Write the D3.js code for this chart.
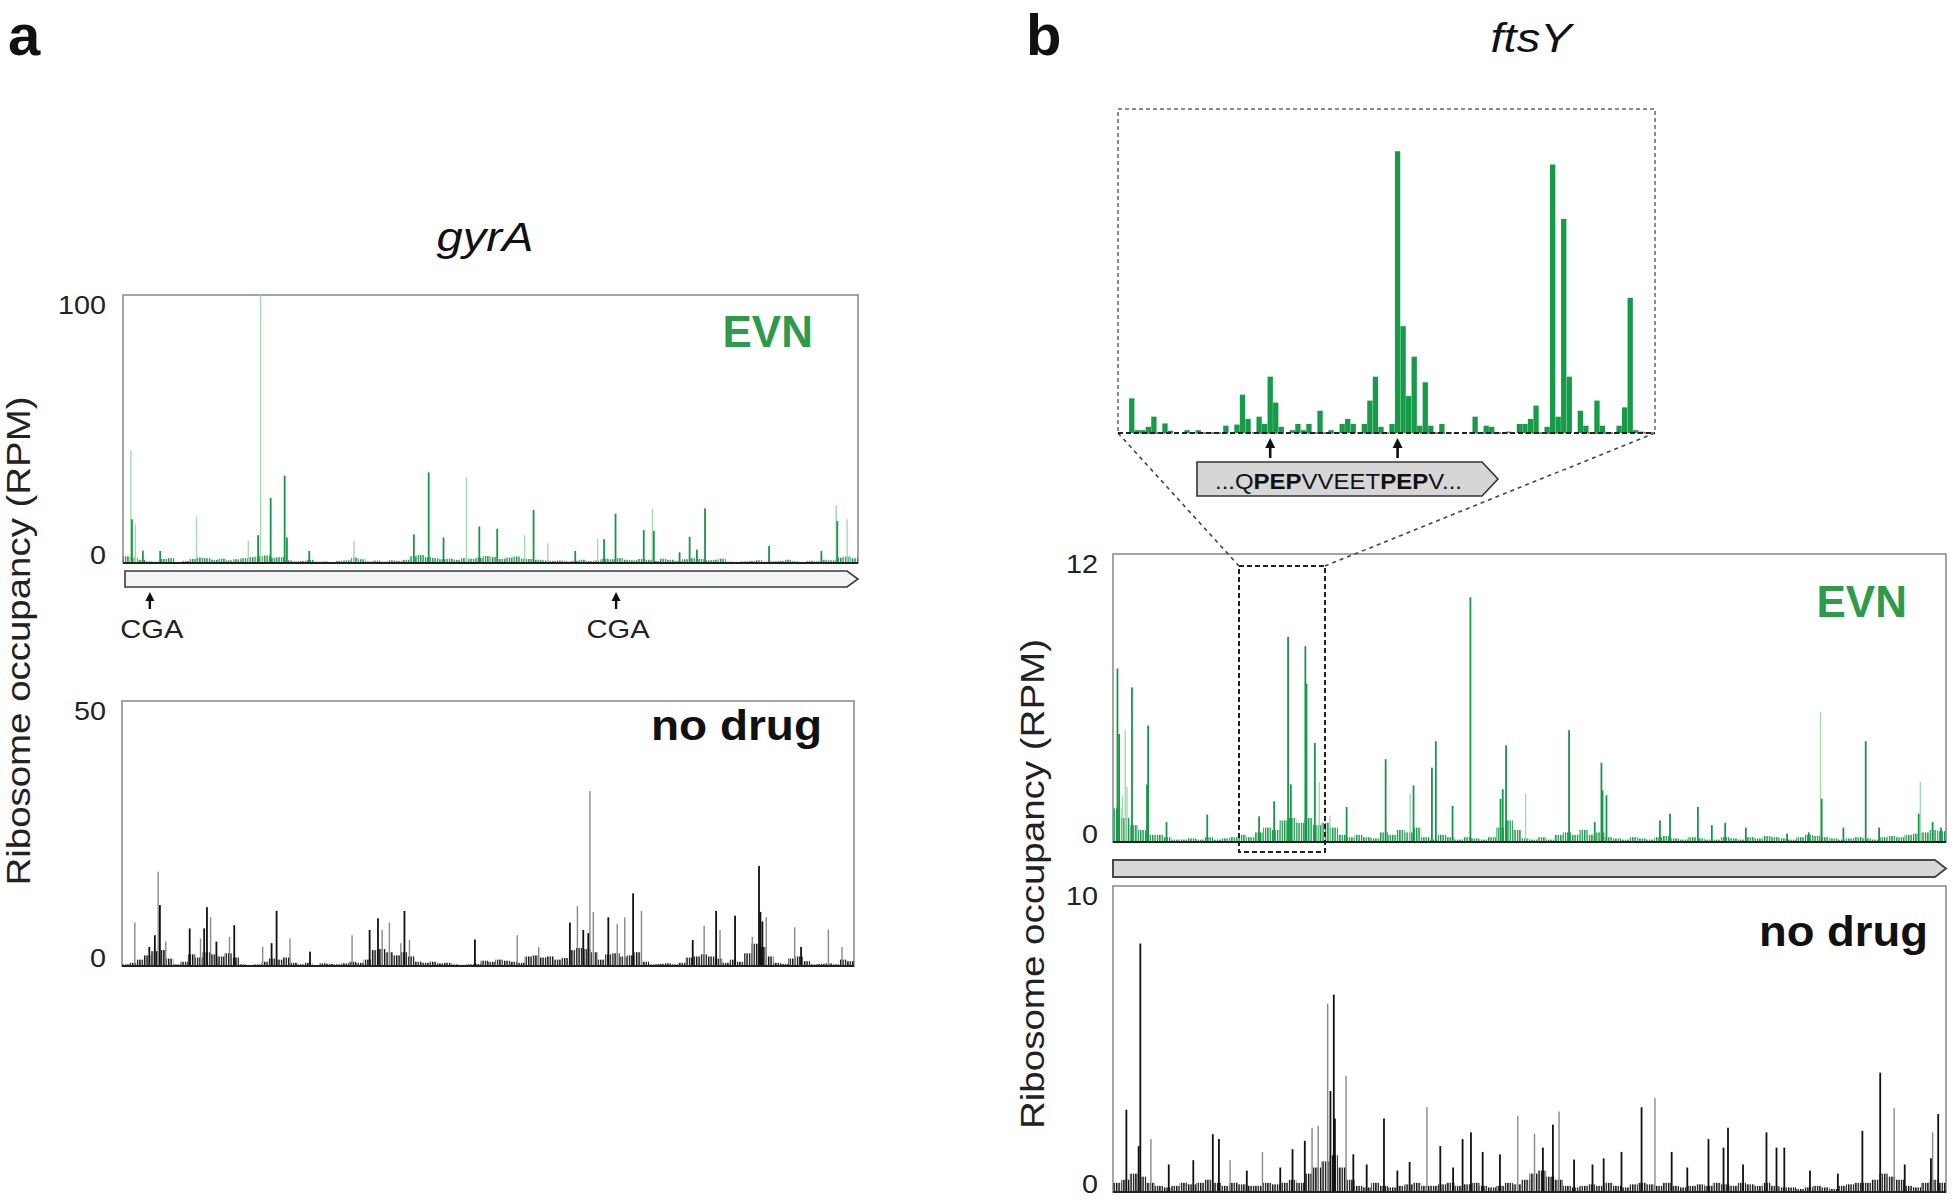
<!DOCTYPE html>
<html><head><meta charset="utf-8">
<script src="https://cdn.jsdelivr.net/npm/d3@7"></script>
<style>body{margin:0;background:#fff} svg{display:block} text{font-family:"Liberation Sans",Arial,sans-serif}</style>
</head><body><svg id="c" width="1956" height="1204"></svg>
<script>
// ---------------- DATA ----------------
const gyrALength = 2628, ftsYLength = 1494;
const ticksA_evn = [0, 100], ticksA_nd = [0, 50], ticksB_evn = [0, 12], ticksB_nd = [0, 10];
const cgaSites = [96, 1763];
const cgaLabels = ["CGA", "CGA"];
const insetArrowIdx = [27, 50];
const seqParts = [["...Q", false], ["PEP", true], ["VVEET", false], ["PEP", true], ["V...", false]];

// background occupancy (binned, 100 bins over the gene)
const bgA_evn = [2.5,2.0,1.2,0.6, 0.5,1.5,1.8,0.4,0.8, 1.5,2.0,1.8,1.2,1.6,1.0,1.4,1.8,2.2,2.5, 2.8,2.0,2.2,1.0, 0.6,0.8,1.2,0.5,0.6,0.4,0.8,1.0, 2.0,1.4, 0.6,0.9,0.5,1.0,0.8,1.2, 2.5,3.0,2.2,1.8,1.4,1.6,1.2, 1.8,1.6,2.0,2.6,2.2,1.5,2.0,2.4,1.6, 1.5,1.2,1.0,0.8,0.9,0.6,0.8,1.2,0.7,0.9, 1.6,1.4,1.8,1.2, 1.0,1.5,1.2,0.8,1.6,1.2,0.8,1.4,1.8,1.5,1.0,1.2,1.6, 0.5,0.4,0.6,0.8,1.0,0.5,0.6,0.8,1.2,0.6,0.4,0.8,0.6, 1.2,1.0,2.0,2.4,1.8];
const bgA_nd = [0.3,0.6, 1.2,2.0,2.8,3.0,1.4, 0.3,0.8, 2.2,1.6,2.6,2.2,1.8,2.4,1.6, 0.3,0.2,0.3,0.8, 1.4,1.2,1.6,0.6, 0.3,0.6,0.2,0.5,0.4,0.3,0.5,0.8,0.6, 1.2, 3.0,3.2,2.6,2.0,2.6,1.8, 0.8,0.6,0.8,0.5,0.6, 0.3,0.2,0.3,0.4, 1.0,0.8,1.2,1.0,0.8, 0.6, 1.8,2.0,1.6,1.8,1.2, 1.5,3.0,3.4,3.2,2.6,1.2, 2.2,2.4,1.8,2.0,2.6,0.8, 0.3,0.4,0.5,0.3,0.6, 1.6,1.8,2.2,1.8,1.4,0.6, 1.2,0.8, 2.4,4.2,3.6,1.8, 0.6,0.4, 1.4,1.8,0.9, 0.3,0.4,0.5,0.3,1.2,0.9];
const bgB_evn = [1.4,1.0,0.7, 0.5,0.3,0.3,0.2, 0.1,0.1,0.15,0.1,0.2,0.1,0.15,0.2, 0.3,0.2,0.4, 0.6,0.5,0.9,1.0,0.8,1.0,0.7,0.8, 0.6,0.3,0.2,0.3,0.2,0.15, 0.4,0.3,0.5,0.4,0.6, 0.2,0.1,0.3,0.2,0.1,0.2,0.15,0.1,0.2, 0.6,0.9,0.5, 0.15,0.1,0.2,0.1, 0.3,0.4,0.3,0.5,0.3,0.4,0.2, 0.15,0.1,0.2,0.15,0.1,0.2,0.25,0.15,0.1,0.2, 0.15,0.1,0.1,0.2,0.15,0.1,0.2,0.15,0.25,0.2, 0.15,0.1,0.2,0.3,0.25,0.2,0.15,0.1,0.15,0.2, 0.15,0.1,0.2,0.25,0.2,0.3,0.35, 0.4,0.5,0.45];
const bgB_nd = [0.3,0.4,0.6,0.5,0.3, 0.2,0.15,0.2,0.3,0.25, 0.3,0.4,0.3,0.2,0.3,0.25,0.2, 0.2,0.3,0.25,0.3,0.4,0.3, 0.6,0.8,1.0,1.2,0.8,0.4, 0.2,0.15,0.3,0.2,0.15,0.2,0.25,0.3,0.2, 0.2,0.25,0.3,0.2,0.25,0.3,0.2,0.15,0.2,0.3,0.25, 0.4,0.6,0.7,0.5,0.4, 0.2,0.15,0.2,0.25,0.2,0.3,0.2,0.15,0.25,0.3, 0.25,0.2,0.3,0.2,0.15,0.2,0.25,0.2,0.3,0.25,0.2,0.3,0.25,0.2,0.3,0.2,0.15, 0.15,0.1,0.15,0.2,0.15,0.1,0.2,0.25,0.3,0.3,0.4, 0.6,0.5,0.4,0.2, 0.15,0.3,0.4,0.3];

// individual peaks: [nt position, RPM, tone (0 dark / 1 light)]
const peaksA_evn = [[28,41.9,1],[32,16.3,0],[44,14.4,1],[71,4.6,0],[133,4.5,0],[263,17.3,1],[448,8.3,1],[483,10.4,0],[492,100,1],[528,24.3,0],[578,32.6,0],[586,9.5,0],[666,4.5,0],[826,8.3,1],[1040,10.7,0],[1093,33.8,0],[1146,9.5,0],[1228,32,1],[1274,13.6,0],[1338,12.8,0],[1436,10.4,1],[1468,19.8,0],[1519,7.3,1],[1617,4.5,0],[1697,8.9,1],[1720,8.9,0],[1761,18.4,0],[1862,12.3,0],[1893,20.2,1],[1898,12,0],[1990,4,0],[2026,9.8,0],[2052,5,0],[2081,20.4,0],[2310,6.4,0],[2497,4.5,0],[2550,21.5,1],[2554,15.7,0],[2589,16.3,1]];
const peaksA_nd = [[46,8.2,1],[98,3.6,0],[118,5.8,0],[130,17.8,1],[136,11.5,0],[157,4.6,1],[243,7.1,0],[282,5.2,1],[295,7.1,0],[305,11.1,0],[318,9.2,1],[339,4.6,0],[386,5.5,1],[403,7.7,0],[505,3.6,1],[537,4.3,0],[555,10.4,0],[603,5.2,1],[675,2.7,0],[826,5.8,1],[889,6.8,0],[919,9.0,0],[934,6.8,1],[960,8.2,1],[1001,4.3,1],[1014,10.4,0],[1032,4.9,1],[1267,5.0,0],[1419,5.8,1],[1496,3.6,1],[1608,8.2,0],[1635,11.3,1],[1656,6.8,0],[1674,6.2,0],[1680,33,1],[1692,10.2,1],[1746,9.2,0],[1778,7.9,1],[1805,9.2,1],[1835,13.7,0],[1865,10.4,1],[2049,4.9,0],[2090,7.6,1],[2133,10.4,0],[2147,6.8,1],[2201,9.5,0],[2263,5.5,1],[2287,18.9,0],[2292,10.2,0],[2299,8.4,0],[2313,9.2,1],[2415,7.3,1],[2438,3.6,0],[2536,6.9,1],[2585,3.6,1]];
const peaksB_evn = [[8,7.23,0],[11,4.5,0],[17,1.95,1],[22,4.66,1],[25,2.3,1],[34,6.44,0],[61,2.4,0],[63,4.85,0],[96,0.83,0],[169,1.14,0],[262,1.07,0],[289,1.7,0],[314,8.55,0],[319,2.4,0],[345,8.16,0],[347,6.6,0],[362,4.13,0],[370,2.5,1],[389,1.1,1],[419,1.46,0],[489,3.45,0],[533,2.0,1],[539,2.36,0],[572,3.1,0],[579,4.2,0],[609,1.5,0],[641,10.2,0],[695,1.8,0],[699,2.2,0],[705,4.03,0],[740,2.0,1],[818,4.66,0],[864,0.83,0],[876,3.3,0],[878,2.15,0],[885,1.95,0],[981,0.9,0],[999,1.18,0],[1049,1.46,0],[1074,0.7,0],[1098,0.8,0],[1135,0.6,0],[1209,0.35,0],[1248,0.4,0],[1269,5.42,1],[1271,1.8,0],[1310,0.6,0],[1350,4.2,0],[1374,0.6,0],[1445,1.18,0],[1448,2.5,1],[1470,0.83,0],[1485,0.6,0]];
const peaksB_nd = [[24,2.69,0],[46,1.5,0],[49,8.12,0],[68,1.73,1],[100,0.9,0],[144,1.04,0],[179,1.89,0],[190,1.73,0],[210,1.04,1],[240,0.7,0],[268,1.31,1],[300,0.8,0],[322,1.4,0],[344,1.67,0],[357,2.1,1],[368,2.16,1],[385,6.15,1],[390,3.3,0],[396,6.45,0],[398,2.4,0],[418,3.8,1],[431,1.23,0],[455,0.9,0],[486,2.4,0],[510,0.7,0],[532,0.98,0],[563,2.77,1],[587,1.5,0],[610,0.8,0],[627,1.73,0],[642,1.95,0],[663,1.31,0],[694,1.23,0],[726,2.49,1],[756,1.9,1],[771,1.45,0],[789,2.2,0],[800,2.63,1],[827,1.06,0],[860,0.9,0],[880,1.1,0],[912,1.31,0],[948,2.77,0],[972,3.07,1],[1002,1.31,0],[1030,0.8,0],[1068,1.73,0],[1095,1.45,0],[1103,2.1,0],[1130,0.9,0],[1172,1.95,0],[1190,1.45,0],[1204,1.45,0],[1250,0.7,0],[1300,0.6,0],[1344,2.0,0],[1376,3.9,0],[1401,2.74,1],[1420,0.9,0],[1467,1.1,0],[1470,1.95,1],[1480,2.55,0]];

// inset (zoomed region, per nucleotide)
const insetVals = [0,0,12.3,1,1,2.2,5.8,0,3.4,0.8, 0,0,1,0,1,0,0,0,0,2.6, 0,3,13.6,5,0,5.8,3.2,20,10.8,2.2, 0,1,3.2,1,3.2,0,7.9,0,1,0, 3.2,5,3.2,0,3.2,11.5,20,2.2,0,3.2, 100,37.9,13.1,27.1,2.6,18,2.6,0,3.2,0, 0,0,0,0,5.8,0,2.6,2.2,0,0, 0.5,0,3.2,3.2,5,9.7,0,2.2,95.3,5.8, 76,20,0,7.9,2.6,0,11.5,2.6,0,0, 2.6,9.1,48,1,0.5,0,0];

// ---------------- DRAWING ----------------
const svg = d3.select('#c');
const FF = '"Liberation Sans", Arial, sans-serif';
const GREEN = '#17974a', GREEN_L = '#a6d9b1', GREEN_TXT = '#2e9b4c';

// stripe patterns to give the dense low-level signal a fine, line-like texture
const defs = svg.append('defs');
[['stG', GREEN], ['stK', '#111']].forEach(([id, col]) => {
  const p = defs.append('pattern').attr('id', id).attr('patternUnits', 'userSpaceOnUse')
    .attr('width', 2.4).attr('height', 20);
  p.append('rect').attr('width', 1.4).attr('height', 20).attr('fill', col);
});

function txt(x, y, s, o) {
  const t = svg.append('text').attr('x', x).attr('y', y).text(s)
    .attr('font-size', o.size).attr('font-family', FF)
    .attr('font-weight', o.bold ? 'bold' : 'normal')
    .attr('font-style', o.italic ? 'italic' : 'normal')
    .attr('fill', o.fill || '#111')
    .attr('text-anchor', o.anchor || 'start');
  if (o.len) t.attr('textLength', o.len).attr('lengthAdjust', 'spacingAndGlyphs');
  if (o.rot) t.attr('transform', `rotate(-90,${x},${y})`);
  return t;
}

function track(c) {
  const x = d3.scaleLinear().domain([0, c.len]).range([c.x0, c.x1]);
  const y = d3.scaleLinear().domain([0, c.max]).range([c.base, c.top]);
  const g = svg.append('g');
  g.append('rect').attr('x', c.x0).attr('y', c.top).attr('width', c.x1 - c.x0).attr('height', c.base - c.top)
    .attr('fill', '#fff').attr('stroke', '#8e8e8e').attr('stroke-width', 1.6);
  const bw = c.len / c.bg.length;
  g.append('g').selectAll('rect').data(c.bg).join('rect')
    .attr('x', (d, i) => x(i * bw)).attr('width', (d, i) => x((i + 1) * bw) - x(i * bw))
    .attr('y', d => y(d)).attr('height', d => c.base - y(d))
    .attr('fill', `url(#${c.pat})`);
  const pk = c.peaks.slice().sort((a, b) => b[2] - a[2]);
  g.append('g').selectAll('rect').data(pk).join('rect')
    .attr('x', d => x(d[0]) - (d[2] ? 0.7 : 0.9)).attr('width', d => d[2] ? 1.4 : 1.8)
    .attr('y', d => y(d[1])).attr('height', d => c.base - y(d[1]))
    .attr('fill', d => d[2] ? c.light : c.dark);
  g.append('line').attr('x1', c.x0).attr('x2', c.x1).attr('y1', c.base).attr('y2', c.base)
    .attr('stroke', '#222').attr('stroke-width', 1.8);
  const ax = d3.axisLeft(y).tickValues(c.ticks).tickSize(0).tickPadding(0).tickFormat(d3.format('d'));
  const ag = g.append('g').attr('transform', `translate(${c.tickX},0)`).call(ax);
  ag.select('.domain').remove();
  ag.selectAll('text').attr('font-size', 25).attr('font-family', FF).attr('fill', '#222')
    .attr('dy', d => d === 0 ? '0em' : '0.72em')
    .attr('textLength', d => String(d).length * 16).attr('lengthAdjust', 'spacingAndGlyphs');
  txt(c.labRight, c.labBase, c.label, { size: c.labSize, bold: true, anchor: 'end', fill: c.labFill, len: c.labLen });
  return x;
}

// Panel letters and titles
txt(8, 55, 'a', { size: 58, bold: true });
txt(1026, 55, 'b', { size: 58, bold: true });
txt(485, 251, 'gyrA', { size: 40, italic: true, anchor: 'middle', len: 97 });
txt(1531, 52, 'ftsY', { size: 40, italic: true, anchor: 'middle', len: 81 });
txt(30, 641, 'Ribosome occupancy (RPM)', { size: 33, anchor: 'middle', rot: true, len: 489, fill: '#222' });
txt(1044, 884, 'Ribosome occupancy (RPM)', { size: 33, anchor: 'middle', rot: true, len: 490, fill: '#222' });

// Panel a tracks
const xA = track({ x0: 123, x1: 858, top: 295, base: 563, len: gyrALength, max: 100, bg: bgA_evn, peaks: peaksA_evn, pat: 'stG',
  dark: GREEN, light: GREEN_L, ticks: ticksA_evn, tickX: 106, label: 'EVN', labRight: 813, labBase: 347, labSize: 44, labFill: GREEN_TXT });
track({ x0: 122, x1: 854, top: 701, base: 966, len: gyrALength, max: 50, bg: bgA_nd, peaks: peaksA_nd, pat: 'stK',
  dark: '#111', light: '#8a8a8a', ticks: ticksA_nd, tickX: 106, label: 'no drug', labRight: 822, labBase: 740, labSize: 42, labFill: '#111', labLen: 171 });

// gyrA gene arrow
svg.append('polygon').attr('points', '125,571 847,571 858,579 847,587 125,587')
  .attr('fill', '#f3f4f5').attr('stroke', '#3a3a3a').attr('stroke-width', 1.6);
cgaSites.forEach((p, i) => {
  const cx = xA(p);
  svg.append('polygon').attr('points', `${cx},592 ${cx - 4.5},601 ${cx + 4.5},601`).attr('fill', '#111');
  svg.append('line').attr('x1', cx).attr('x2', cx).attr('y1', 599).attr('y2', 609).attr('stroke', '#111').attr('stroke-width', 2.4);
  txt(cx + 2, 638, cgaLabels[i], { size: 25, anchor: 'middle', len: 63, fill: '#222' });
});

// Panel b tracks
track({ x0: 1113, x1: 1946, top: 554, base: 842, len: ftsYLength, max: 12, bg: bgB_evn, peaks: peaksB_evn, pat: 'stG',
  dark: GREEN, light: GREEN_L, ticks: ticksB_evn, tickX: 1098, label: 'EVN', labRight: 1907, labBase: 617, labSize: 44, labFill: GREEN_TXT });
track({ x0: 1113, x1: 1946, top: 886, base: 1192, len: ftsYLength, max: 10, bg: bgB_nd, peaks: peaksB_nd, pat: 'stK',
  dark: '#111', light: '#8a8a8a', ticks: ticksB_nd, tickX: 1098, label: 'no drug', labRight: 1928, labBase: 946, labSize: 42, labFill: '#111', labLen: 169 });

// ftsY gene arrow
svg.append('polygon').attr('points', '1113,860 1935,860 1946,868.5 1935,877 1113,877')
  .attr('fill', '#d8d8d8').attr('stroke', '#4a4a4a').attr('stroke-width', 2);

// zoom rectangle and connectors
svg.append('rect').attr('x', 1239).attr('y', 566).attr('width', 86).attr('height', 286)
  .attr('fill', 'none').attr('stroke', '#222').attr('stroke-width', 2).attr('stroke-dasharray', '5,3');
svg.append('line').attr('x1', 1118).attr('y1', 433).attr('x2', 1239).attr('y2', 566)
  .attr('stroke', '#444').attr('stroke-width', 1.6).attr('stroke-dasharray', '4,4');
svg.append('line').attr('x1', 1655).attr('y1', 433).attr('x2', 1325).attr('y2', 566)
  .attr('stroke', '#444').attr('stroke-width', 1.6).attr('stroke-dasharray', '4,4');

// inset
const xi = d3.scaleBand().domain(d3.range(insetVals.length)).range([1118, 1655]).paddingInner(0.04);
const yi = d3.scaleLinear().domain([0, 115]).range([433, 109]);
svg.append('rect').attr('x', 1118).attr('y', 109).attr('width', 537).attr('height', 324)
  .attr('fill', '#fff').attr('stroke', '#666').attr('stroke-width', 1.5).attr('stroke-dasharray', '4,3');
svg.append('g').selectAll('rect').data(insetVals).join('rect')
  .attr('x', (d, i) => xi(i)).attr('width', xi.bandwidth())
  .attr('y', d => yi(d)).attr('height', d => 433 - yi(d)).attr('fill', '#169c48');
svg.append('line').attr('x1', 1118).attr('x2', 1655).attr('y1', 433).attr('y2', 433)
  .attr('stroke', '#222').attr('stroke-width', 2.2).attr('stroke-dasharray', '5,3');
insetArrowIdx.forEach(i => {
  const cx = xi(i) + xi.bandwidth() / 2;
  svg.append('polygon').attr('points', `${cx},438 ${cx - 5},448 ${cx + 5},448`).attr('fill', '#111');
  svg.append('line').attr('x1', cx).attr('x2', cx).attr('y1', 446).attr('y2', 458).attr('stroke', '#111').attr('stroke-width', 2.6);
});
svg.append('polygon').attr('points', '1197,462 1482,462 1498,479 1482,496 1197,496')
  .attr('fill', '#d6d6d6').attr('stroke', '#333').attr('stroke-width', 1.6);
const seq = svg.append('text').attr('x', 1215).attr('y', 489).attr('font-size', 22).attr('font-family', FF).attr('fill', '#111')
  .attr('textLength', 247).attr('lengthAdjust', 'spacingAndGlyphs');
seqParts.forEach(p => seq.append('tspan').text(p[0]).attr('font-weight', p[1] ? 'bold' : 'normal'));
</script></body></html>
